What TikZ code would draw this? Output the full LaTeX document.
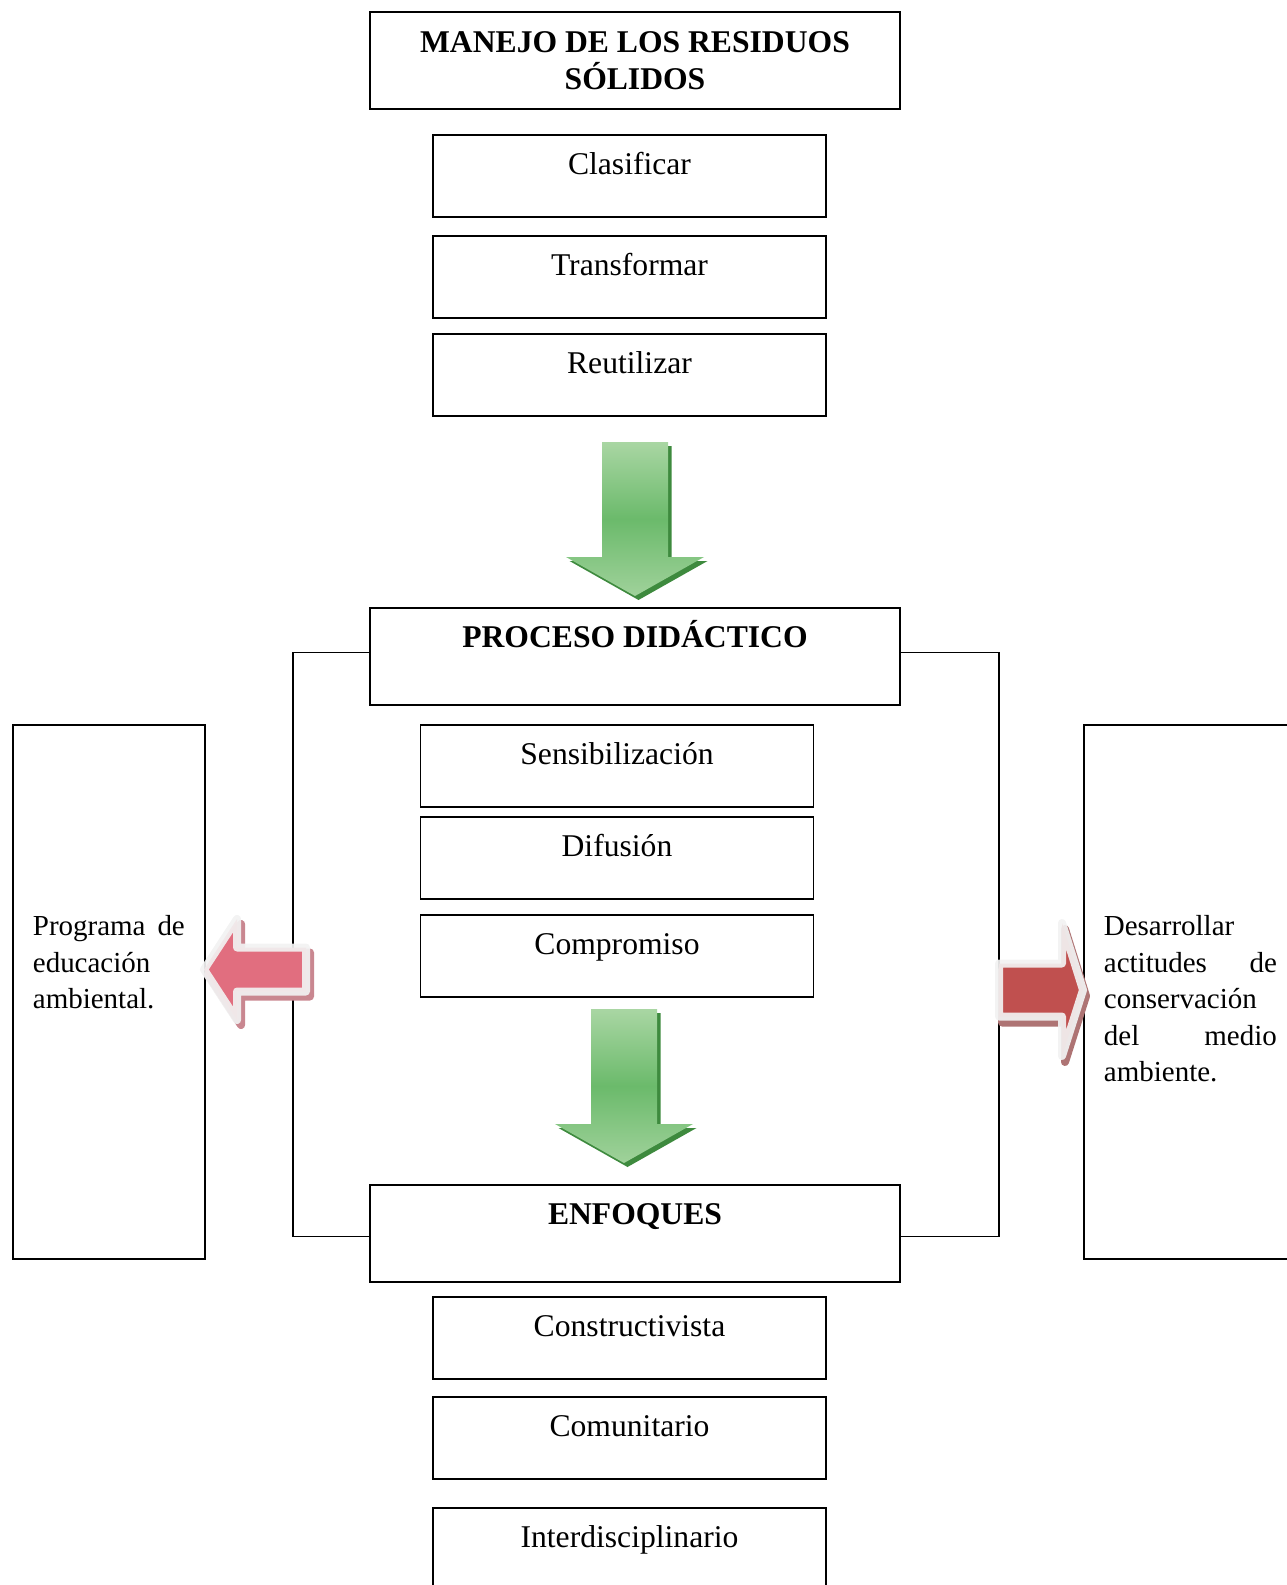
\documentclass[tikz,border=0pt]{standalone}
\usepackage{fontspec}
\setmainfont{Liberation Serif}

\definecolor{verdeclaro}{HTML}{A9D6A3}
\definecolor{verdemedio}{HTML}{6BBA6B}
\definecolor{verdesombra}{HTML}{3E8A3E}
\definecolor{rosa}{HTML}{E46C7E}
\definecolor{rosasombra}{HTML}{C98790}
\definecolor{rojo}{HTML}{C24E4C}
\definecolor{rojosombra}{HTML}{AE7474}
\definecolor{bordeclaro}{HTML}{F2F2F2}

\tikzset{
    caja/.style={draw=black, line width=1pt, inner sep=0pt, align=center,
        minimum width=7.86cm, text height=0.80cm, text depth=0.84cm,
        font=\fontsize{18}{20.7}\selectfont},
    cabeza/.style={caja, minimum width=10.60cm, text depth=1.14cm,
        font=\bfseries\fontsize{18}{21.5}\selectfont},
    lado/.style={draw=black, line width=1pt, inner xsep=0.40cm, inner ysep=0pt,
        align=left, text height=4.22cm, text depth=6.46cm,
        font=\fontsize{16.5}{20.7}\selectfont},
    flechalado/.style={line width=0.16cm, line join=round},
}

% flecha verde hacia abajo, origen en el centro de su borde superior
\newcommand{\flechaverde}{%
    \fill[verdesombra, shift={(0.07,-0.08)}] (-0.66,0) -- (0.66,0) -- (0.66,-2.30)
        -- (1.38,-2.30) -- (0,-3.08) -- (-1.38,-2.30) -- (-0.66,-2.30) -- cycle;
    \shade[top color=verdeclaro, bottom color=verdeclaro!85!verdemedio, middle color=verdemedio]
        (-0.66,0) -- (0.66,0) -- (0.66,-2.30)
        -- (1.38,-2.30) -- (0,-3.08) -- (-1.38,-2.30) -- (-0.66,-2.30) -- cycle;
}

\begin{document}
\begin{tikzpicture}
    \useasboundingbox (0,0) rectangle (25.72,-31.70);

    \node[cabeza, anchor=north, text height=1.56cm, text depth=0.38cm] at (12.70,-0.22) (titulo)
        {MANEJO DE LOS RESIDUOS\\SÓLIDOS};
    \node[caja, anchor=north] at (12.59,-2.68) (clasificar) {Clasificar};
    \node[caja, anchor=north] at (12.59,-4.70) (transformar) {Transformar};
    \node[caja, anchor=north] at (12.59,-6.66) (reutilizar) {Reutilizar};

    \begin{scope}[shift={(12.70,-8.84)}]
        \flechaverde
    \end{scope}

    \node[cabeza, anchor=north] at (12.70,-12.14) (proceso) {PROCESO DIDÁCTICO};
    \node[caja, anchor=north] at (12.34,-14.48) (sensibilizacion) {Sensibilización};
    \node[caja, anchor=north] at (12.34,-16.32) (difusion) {Difusión};
    \node[caja, anchor=north] at (12.34,-18.28) (compromiso) {Compromiso};

    \begin{scope}[shift={(12.48,-20.18)}]
        \flechaverde
    \end{scope}

    \node[cabeza, anchor=north] at (12.70,-23.68) (enfoques) {ENFOQUES};
    \node[caja, anchor=north] at (12.59,-25.92) (constructivista) {Constructivista};
    \node[caja, anchor=north] at (12.59,-27.92) (comunitario) {Comunitario};
    \node[caja, anchor=north] at (12.59,-30.14) (interdisciplinario) {Interdisciplinario};

    \node[lado, text width=3.04cm, anchor=north west] at (0.24,-14.48) (programa)
        {Programa\hfill de\\educación\\ambiental.};
    \node[lado, text width=3.46cm, anchor=north west] at (21.66,-14.48) (actitudes)
        {Desarrollar\\actitudes\hfill de\\conservación\\del\hfill medio\\ambiente.};

    \draw[line width=1pt] ([yshift=0.08cm]proceso.west) -- ++(-1.52,0) |- ([yshift=-0.06cm]enfoques.west);
    \draw[line width=1pt] ([yshift=0.08cm]proceso.east) -- ++(1.96,0) |- ([yshift=-0.06cm]enfoques.east);

    % flecha rosa hacia la izquierda
    \filldraw[flechalado, rosasombra, shift={(0.08,-0.10)}] (4.08,-19.39) -- (4.74,-18.38) -- (4.74,-18.95)
        -- (6.12,-18.95) -- (6.12,-19.83) -- (4.74,-19.83) -- (4.74,-20.40) -- cycle;
    \filldraw[flechalado, fill=rosa, draw=bordeclaro, opacity=0.92] (4.08,-19.39) -- (4.74,-18.38) -- (4.74,-18.95)
        -- (6.12,-18.95) -- (6.12,-19.83) -- (4.74,-19.83) -- (4.74,-20.40) -- cycle;

    % flecha roja hacia la derecha
    \filldraw[flechalado, rojosombra, shift={(0.06,-0.12)}] (19.98,-19.27) -- (21.24,-19.27) -- (21.24,-18.46)
        -- (21.66,-19.80) -- (21.24,-21.12) -- (21.24,-20.33) -- (19.98,-20.33) -- cycle;
    \filldraw[flechalado, fill=rojo, draw=bordeclaro, opacity=0.92] (19.98,-19.27) -- (21.24,-19.27) -- (21.24,-18.46)
        -- (21.66,-19.80) -- (21.24,-21.12) -- (21.24,-20.33) -- (19.98,-20.33) -- cycle;
\end{tikzpicture}
\end{document}
